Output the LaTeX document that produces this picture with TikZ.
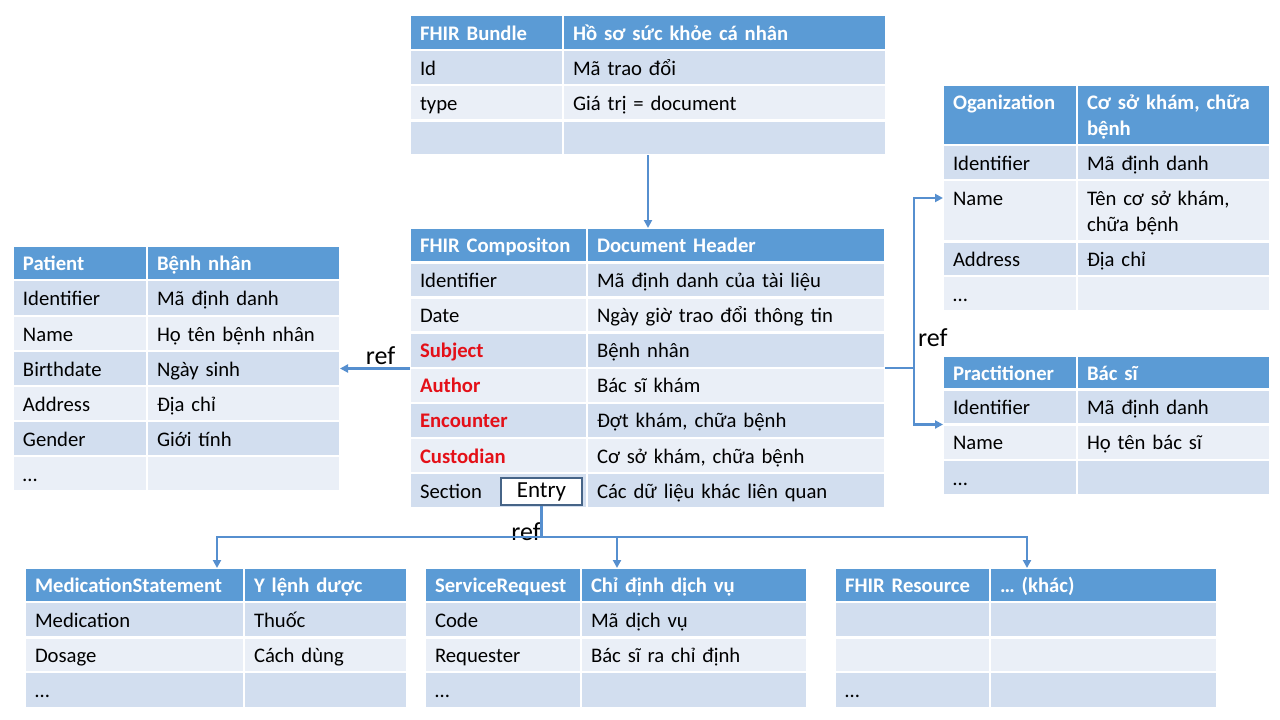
\documentclass[tikz,border=0pt]{standalone}
\usepackage{fontspec}
\setmainfont{Carlito}
\usetikzlibrary{arrows.meta}
\definecolor{hblue}{RGB}{91,155,213}
\definecolor{rowdk}{RGB}{210,222,239}
\definecolor{rowlt}{RGB}{234,239,247}
\definecolor{connc}{RGB}{86,143,207}
\definecolor{redtxt}{RGB}{228,16,24}
\definecolor{entryb}{RGB}{70,100,135}
\tikzset{
  cellbase/.style={draw=white, line width=2.5pt, inner ysep=0pt, inner xsep=10pt, outer sep=0pt, align=left, font=\fontsize{20.7}{25.5}\selectfont},
  hdr/.style={cellbase, fill=hblue, text=white, font=\fontsize{20.7}{25.5}\selectfont\bfseries},
  dk/.style={cellbase, fill=rowdk, text=black},
  lt/.style={cellbase, fill=rowlt, text=black},
  tbl/.style={inner sep=0pt, outer sep=0pt, anchor=north west},
  conn/.style={draw=connc, line width=2.3pt, -{Triangle[length=8pt,width=8pt]}},
  connplain/.style={draw=connc, line width=2.3pt},
  reflabel/.style={inner sep=0pt, font=\fontsize{26}{30}\selectfont},
  entrybox/.style={draw=entryb, line width=1.1pt, fill=white, inner sep=0pt, font=\fontsize{23}{27}\selectfont}
}
\newcommand\cs{\rule[-5pt]{0pt}{25pt}}
\newcommand\cd{\rule[-5pt]{0pt}{5pt}}
\newcommand\C[7]{%
  \pgfmathsetmacro\cw{#4-#2}%
  \pgfmathsetmacro\ch{#5-#3}%
  \pgfmathsetmacro\tw{#4-#2-20}%
  \node[#6, anchor=north west, text width=\tw pt, minimum width=\cw pt, minimum height=\ch pt] (#1) at (#2,#3) {\cs#7};%
}
\newcommand\T[5]{%
  \pgfmathsetmacro\cw{#4-#2}%
  \pgfmathsetmacro\ch{#5-#3}%
  \node[tbl, minimum width=\cw pt, minimum height=\ch pt] (#1) at (#2,#3) {};%
}
\newcommand\rd[1]{\textcolor{redtxt}{\textbf{#1}}}
\begin{document}
\begin{tikzpicture}[x=1pt,y=-1pt]
\useasboundingbox (0,0) rectangle (1280,720);
\fill[white] (0,0) rectangle (1280,720);

% ---------- FHIR Bundle ----------
\T{bundle}{410}{15}{886}{155}
\C{bH1}{410}{15}{563}{50}{hdr}{FHIR Bundle}
\C{bH2}{563}{15}{886}{50}{hdr}{Hồ sơ sức khỏe cá nhân}
\C{b1L}{410}{50}{563}{85}{dk}{Id}
\C{b1R}{563}{50}{886}{85}{dk}{Mã trao đổi}
\C{b2L}{410}{85}{563}{120.5}{lt}{type}
\C{b2R}{563}{85}{886}{120.5}{lt}{Giá trị = document}
\C{b3L}{410}{120.5}{563}{155}{dk}{}
\C{b3R}{563}{120.5}{886}{155}{dk}{}

% ---------- FHIR Composition ----------
\T{comp}{410}{228}{885}{508.2}
\C{cH1}{410}{228}{587}{262.5}{hdr}{FHIR Compositon}
\C{cH2}{587}{228}{885}{262.5}{hdr}{Document Header}
\C{c1L}{410}{262.5}{587}{297.6}{dk}{Identifier}
\C{c1R}{587}{262.5}{885}{297.6}{dk}{Mã định danh của tài liệu}
\C{c2L}{410}{297.6}{587}{332.7}{lt}{Date}
\C{c2R}{587}{297.6}{885}{332.7}{lt}{Ngày giờ trao đổi thông tin}
\C{c3L}{410}{332.7}{587}{367.8}{dk}{\rd{Subject}}
\C{c3R}{587}{332.7}{885}{367.8}{dk}{Bệnh nhân}
\C{c4L}{410}{367.8}{587}{402.9}{lt}{\rd{Author}}
\C{c4R}{587}{367.8}{885}{402.9}{lt}{Bác sĩ khám}
\C{c5L}{410}{402.9}{587}{438}{dk}{\rd{Encounter}}
\C{c5R}{587}{402.9}{885}{438}{dk}{Đợt khám, chữa bệnh}
\C{c6L}{410}{438}{587}{473.1}{lt}{\rd{Custodian}}
\C{c6R}{587}{438}{885}{473.1}{lt}{Cơ sở khám, chữa bệnh}
\C{c7L}{410}{473.1}{587}{508.2}{dk}{Section}
\C{c7R}{587}{473.1}{885}{508.2}{dk}{Các dữ liệu khác liên quan}
\node[entrybox, minimum width=81pt, minimum height=27pt] (entry) at (541.5,491.5) {Entry};

% ---------- Patient ----------
\T{pat}{13}{246}{340}{491}
\C{pH1}{13}{246}{147}{280}{hdr}{Patient}
\C{pH2}{147}{246}{340}{280}{hdr}{Bệnh nhân}
\C{p1L}{13}{280}{147}{316}{dk}{Identifier}
\C{p1R}{147}{280}{340}{316}{dk}{Mã định danh}
\C{p2L}{13}{316}{147}{351}{lt}{Name}
\C{p2R}{147}{316}{340}{351}{lt}{Họ tên bệnh nhân}
\C{p3L}{13}{351}{147}{386}{dk}{Birthdate}
\C{p3R}{147}{351}{340}{386}{dk}{Ngày sinh}
\C{p4L}{13}{386}{147}{421}{lt}{Address}
\C{p4R}{147}{386}{340}{421}{lt}{Địa chỉ}
\C{p5L}{13}{421}{147}{456}{dk}{Gender}
\C{p5R}{147}{421}{340}{456}{dk}{Giới tính}
\C{p6L}{13}{456}{147}{491}{lt}{…}
\C{p6R}{147}{456}{340}{491}{lt}{}

% ---------- Organization ----------
\T{org}{943}{85}{1270}{311}
\C{oH1}{943}{85}{1077}{145}{hdr}{Oganization\\\cd}
\C{oH2}{1077}{85}{1270}{145}{hdr}{Cơ sở khám, chữa\\bệnh\cd}
\C{o1L}{943}{145}{1077}{180}{dk}{Identifier}
\C{o1R}{1077}{145}{1270}{180}{dk}{Mã định danh}
\C{o2L}{943}{180}{1077}{241.5}{lt}{Name\\\cd}
\C{o2R}{1077}{180}{1270}{241.5}{lt}{Tên cơ sở khám,\\chữa bệnh\cd}
\C{o3L}{943}{241.5}{1077}{276}{dk}{Address}
\C{o3R}{1077}{241.5}{1270}{276}{dk}{Địa chỉ}
\C{o4L}{943}{276}{1077}{311}{lt}{…}
\C{o4R}{1077}{276}{1270}{311}{lt}{}

% ---------- Practitioner ----------
\T{pract}{943}{356}{1270}{495}
\C{rH1}{943}{356}{1077}{389.5}{hdr}{Practitioner}
\C{rH2}{1077}{356}{1270}{389.5}{hdr}{Bác sĩ}
\C{r1L}{943}{389.5}{1077}{424.5}{dk}{Identifier}
\C{r1R}{1077}{389.5}{1270}{424.5}{dk}{Mã định danh}
\C{r2L}{943}{424.5}{1077}{460}{lt}{Name}
\C{r2R}{1077}{424.5}{1270}{460}{lt}{Họ tên bác sĩ}
\C{r3L}{943}{460}{1077}{495}{dk}{…}
\C{r3R}{1077}{460}{1270}{495}{dk}{}

% ---------- MedicationStatement ----------
\T{med}{25}{568}{407}{708}
\C{mH1}{25}{568}{244}{602}{hdr}{MedicationStatement}
\C{mH2}{244}{568}{407}{602}{hdr}{Y lệnh dược}
\C{m1L}{25}{602}{244}{637.5}{dk}{Medication}
\C{m1R}{244}{602}{407}{637.5}{dk}{Thuốc}
\C{m2L}{25}{637.5}{244}{672}{lt}{Dosage}
\C{m2R}{244}{637.5}{407}{672}{lt}{Cách dùng}
\C{m3L}{25}{672}{244}{708}{dk}{…}
\C{m3R}{244}{672}{407}{708}{dk}{}

% ---------- ServiceRequest ----------
\T{srv}{425}{568}{807}{708}
\C{sH1}{425}{568}{581}{602}{hdr}{ServiceRequest}
\C{sH2}{581}{568}{807}{602}{hdr}{Chỉ định dịch vụ}
\C{s1L}{425}{602}{581}{637.5}{dk}{Code}
\C{s1R}{581}{602}{807}{637.5}{dk}{Mã dịch vụ}
\C{s2L}{425}{637.5}{581}{672}{lt}{Requester}
\C{s2R}{581}{637.5}{807}{672}{lt}{Bác sĩ ra chỉ định}
\C{s3L}{425}{672}{581}{708}{dk}{…}
\C{s3R}{581}{672}{807}{708}{dk}{}

% ---------- FHIR Resource ----------
\T{res}{835}{568}{1217}{708}
\C{xH1}{835}{568}{990}{602}{hdr}{FHIR Resource}
\C{xH2}{990}{568}{1217}{602}{hdr}{… (khác)}
\C{x1L}{835}{602}{990}{637.5}{dk}{}
\C{x1R}{990}{602}{1217}{637.5}{dk}{}
\C{x2L}{835}{637.5}{990}{672}{lt}{}
\C{x2R}{990}{637.5}{1217}{672}{lt}{}
\C{x3L}{835}{672}{990}{708}{dk}{…}
\C{x3R}{990}{672}{1217}{708}{dk}{}

% ---------- connectors ----------
\draw[conn] (bundle.south) -- (bundle.south |- comp.north);

\draw[conn] (comp.west |- pat.east) -- (pat.east);
\node[reflabel, anchor=base] (refL) at (380.5,364) {ref};

\coordinate (rj) at (914,368);
\draw[conn] (comp.east) -- (comp.east -| rj) |- ([yshift=-18pt]o2L.north west);
\draw[conn] (comp.east -| rj) |- (r2L.north west);
\node[reflabel, anchor=base west] (refR) at (918,346) {ref};

\node[reflabel, anchor=base east] (refB) at (541,540) {ref};
\coordinate (bus) at (541.5,537);
\draw[connplain] (entry.south) -- (bus);
\draw[conn] (bus) -| ([xshift=-27pt]mH1.north east);
\draw[conn] (bus) -| ([xshift=37pt]xH2.north west);
\draw[conn] ([xshift=36pt]sH2.north west |- bus) -- ([xshift=36pt]sH2.north west);
\end{tikzpicture}
\end{document}
